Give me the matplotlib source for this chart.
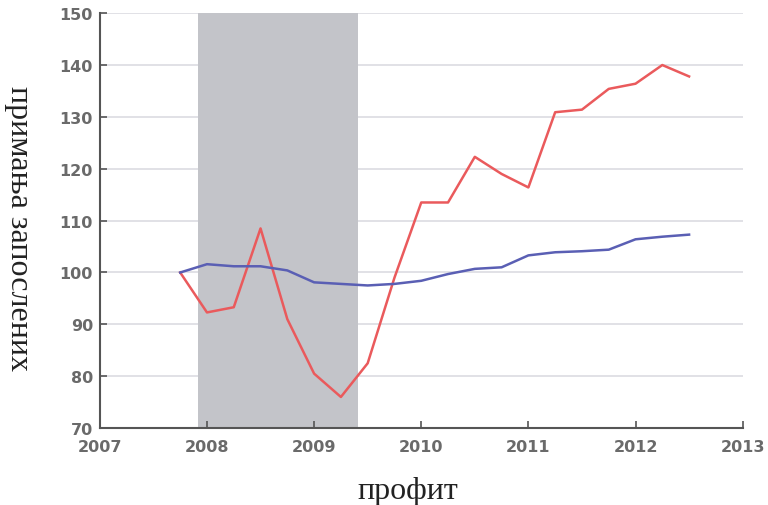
import numpy as np
import matplotlib.pyplot as plt

# quarterly data
red_x = [2007.75, 2008.0, 2008.25, 2008.5, 2008.75, 2009.0, 2009.25, 2009.5, 2009.75,
         2010.0, 2010.25, 2010.5, 2010.75, 2011.0, 2011.25, 2011.5, 2011.75, 2012.0,
         2012.25, 2012.5]
red_y = [100, 92.3, 93.3, 108.5, 91.0, 80.5, 76.0, 82.5, 99.0,
         113.5, 113.5, 122.3, 119.0, 116.4, 130.9, 131.4, 135.4, 136.4,
         140.0, 137.8]

blue_x = red_x
blue_y = [100, 101.6, 101.2, 101.2, 100.4, 98.1, 97.8, 97.5, 97.8,
          98.4, 99.7, 100.7, 101.0, 103.3, 103.9, 104.1, 104.4, 106.4,
          106.9, 107.3]

recession = (2007.92, 2009.41)

fig = plt.figure(figsize=(7.68, 5.06), dpi=100)
ax = fig.add_axes([0.130, 0.152, 0.837, 0.820])

ax.axvspan(recession[0], recession[1], color='#c3c4c9', zorder=1, lw=0)
for v in range(80, 151, 10):
    ax.axhline(v, color='#dcdce2', lw=1.2, zorder=0)

ax.plot(red_x, red_y, color='#ea5a5c', lw=1.8, zorder=3)
ax.plot(blue_x, blue_y, color='#5a5fb4', lw=1.8, zorder=3)

ax.set_xlim(2007, 2013)
ax.set_ylim(70, 150)
ax.set_xticks(range(2007, 2014))
ax.set_yticks(range(70, 151, 10))

for s in ['top', 'right']:
    ax.spines[s].set_visible(False)
for s in ['left', 'bottom']:
    ax.spines[s].set_color('#555555')
    ax.spines[s].set_linewidth(1.5)

ax.tick_params(axis='both', direction='in', length=5, width=1.2, color='#555555',
               labelcolor='#6a6a6a', labelsize=11.5)
for lab in ax.get_xticklabels() + ax.get_yticklabels():
    lab.set_fontweight('bold')
ax.tick_params(axis='x', pad=8)
ax.tick_params(axis='y', pad=5)

fig.text(408 / 768, 1 - 492 / 506, 'профит', family='Liberation Serif', fontsize=23,
         color='#222222', ha='center', va='center')
fig.text(18 / 768, 1 - 228 / 506, 'примања запослених', family='Liberation Serif',
         fontsize=23, color='#222222', rotation=-90, ha='center', va='center')

fig.savefig('out.png', dpi=100)
